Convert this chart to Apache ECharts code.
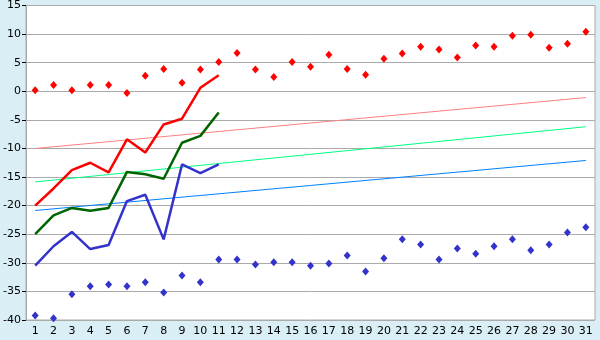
<!DOCTYPE html>
<html><head><meta charset="utf-8">
<script src="https://cdn.jsdelivr.net/npm/echarts@6/dist/echarts.min.js"></script>
<style>html,body{margin:0;padding:0;background:#daeef5;}#c{width:600px;height:340px;}</style>
</head><body><div id="c"></div>
<script>
const categories = ['1','2','3','4','5','6','7','8','9','10','11','12','13','14','15','16','17','18','19','20','21','22','23','24','25','26','27','28','29','30','31'];
const yTicks = {min: -40, max: 15, interval: 5};
const redPoints = [0.2,1.1,0.2,1.1,1.1,-0.3,2.7,3.9,1.5,3.8,5.1,6.7,3.8,2.5,5.1,4.3,6.4,3.9,2.9,5.7,6.6,7.8,7.3,5.9,8.0,7.8,9.7,9.9,7.6,8.3,10.4];
const bluePoints = [-39.2,-39.7,-35.5,-34.1,-33.8,-34.1,-33.4,-35.2,-32.2,-33.4,-29.4,-29.4,-30.3,-29.9,-29.9,-30.5,-30.1,-28.7,-31.5,-29.2,-25.9,-26.8,-29.4,-27.5,-28.4,-27.1,-25.9,-27.8,-26.8,-24.7,-23.8];
const redLine = [-20.0,-17.0,-13.8,-12.5,-14.2,-8.4,-10.7,-5.8,-4.8,0.6,2.8];
const greenLine = [-25.0,-21.7,-20.4,-20.9,-20.4,-14.1,-14.5,-15.3,-9.0,-7.8,-3.7];
const blueLine = [-30.5,-27.1,-24.6,-27.6,-26.9,-19.2,-18.1,-25.9,-12.8,-14.3,-12.8];
const pinkTrend = [['1', -10.0], ['31', -1.1]];
const greenTrend = [['1', -15.85], ['31', -6.2]];
const blueTrend = [['1', -20.85], ['31', -12.1]];

const chart = echarts.init(document.getElementById('c'), null, {renderer: 'canvas'});
const font = 'DejaVu Sans';
function lineS(data, color, w) {
  return {type: 'line', data: data, symbol: 'none', animation: false, z: 3,
    lineStyle: {color: color, width: w}, connectNulls: true};
}
chart.setOption({
  backgroundColor: '#daeef5',
  animation: false,
  grid: {left: 26, right: 5, top: 5, bottom: 20, show: true, backgroundColor: '#ffffff', borderColor: '#aaaaaa', borderWidth: 1},
  xAxis: {type: 'category', data: categories, boundaryGap: true,
    axisLine: {lineStyle: {color: '#aaaaaa'}},
    axisTick: {alignWithLabel: true, length: 5, lineStyle: {color: '#000'}},
    axisLabel: {color: '#000', fontFamily: font, fontSize: 11, margin: 6, interval: 0},
    splitLine: {show: false}},
  yAxis: {type: 'value', min: yTicks.min, max: yTicks.max, interval: yTicks.interval,
    axisLine: {show: true, lineStyle: {color: '#aaaaaa'}},
    axisTick: {show: true, length: 4, lineStyle: {color: '#000'}},
    axisLabel: {color: '#000', fontFamily: font, fontSize: 11, margin: 5},
    splitLine: {lineStyle: {color: '#aaaaaa', width: 1}}},
  series: [
    lineS(pinkTrend, '#ff8080', 1),
    lineS(greenTrend, '#00ff80', 1),
    lineS(blueTrend, '#0080ff', 1),
    lineS(redLine, '#ff0000', 2.5),
    lineS(greenLine, '#006400', 2.5),
    lineS(blueLine, '#3333cc', 2.5),
    {type: 'scatter', data: redPoints, symbol: 'diamond', symbolSize: [7, 8], itemStyle: {color: '#ff0000', opacity: 1}, z: 4},
    {type: 'scatter', data: bluePoints, symbol: 'diamond', symbolSize: [7, 8], itemStyle: {color: '#3333cc', opacity: 1}, z: 4}
  ]
});
</script></body></html>
